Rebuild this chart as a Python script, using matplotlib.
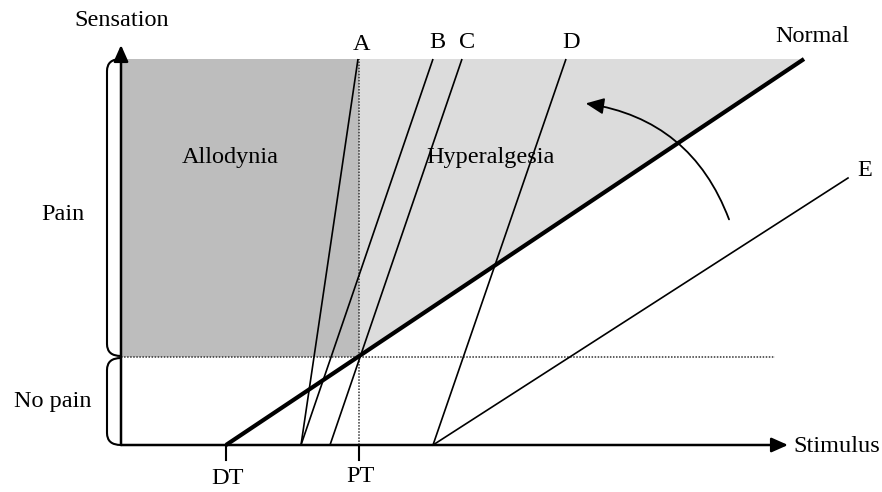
import matplotlib
matplotlib.use("Agg")
import matplotlib.pyplot as plt
from matplotlib.patches import FancyArrowPatch, PathPatch
from matplotlib.path import Path

plt.rcParams['font.family'] = ['Liberation Serif', 'DejaVu Serif']

# ---- data (stimulus units on x, sensation units on y) ----
DT = 105            # detection threshold
PT = 238            # pain threshold
pain_level = 88     # sensation level at pain threshold
top_level = 386     # top of drawing area
y_axis_top = 400
x_axis_end = 667
hline_end = 654

curve_names = ['A', 'B', 'C', 'D', 'Normal']
curve_start = [180, 180, 209, 312, 105]     # stimulus where sensation starts
curve_top = [237, 312, 341, 445, 683]       # stimulus where curve reaches top
curve_lw = [1.2, 1.2, 1.2, 1.2, 3.0]

E_start = 312
E_end = (727, 267)

label_color_dark = '#bdbdbd'
label_color_light = '#dcdcdc'

fig = plt.figure(figsize=(8.82, 4.92), dpi=100)
ax = fig.add_axes([0, 0, 1, 1])
ax.set_xlim(-121, 761)
ax.set_ylim(-47, 445)
ax.axis('off')

# shaded regions
ax.fill([0, PT, PT, 0], [pain_level, pain_level, top_level, top_level],
        color=label_color_dark, lw=0, zorder=0)
ax.fill([PT, PT, curve_top[-1]], [pain_level, top_level, top_level],
        color=label_color_light, lw=0, zorder=0)

# dotted guide lines
ax.plot([0, hline_end], [pain_level, pain_level], ls=(0, (1, 1)), lw=1.1, color='#333333', zorder=1)
ax.plot([PT, PT], [0, top_level], ls=(0, (1, 1)), lw=1.1, color='#333333', zorder=1)

# curves
for name, s, t, lw in zip(curve_names, curve_start, curve_top, curve_lw):
    ax.plot([s, t], [0, top_level], color='black', lw=lw, solid_capstyle='butt', zorder=3)
ax.plot([E_start, E_end[0]], [0, E_end[1]], color='black', lw=1.2, zorder=3)

# axes arrows
ax.annotate('', xy=(0, y_axis_top), xytext=(0, 0),
            arrowprops=dict(arrowstyle='-|>,head_length=0.9,head_width=0.4',
                            lw=1.8, color='black', shrinkA=0, shrinkB=0, mutation_scale=11))
ax.annotate('', xy=(x_axis_end, 0), xytext=(0, 0),
            arrowprops=dict(arrowstyle='-|>,head_length=0.9,head_width=0.4',
                            lw=1.8, color='black', shrinkA=0, shrinkB=0, mutation_scale=11))

# ticks at DT and PT
for xv in [DT, PT]:
    ax.plot([xv, xv], [0, -15], color='black', lw=1.5)

# braces
def bracket(y0, y1, depth=14, r=12):
    verts = [(0, y1), (-depth, y1), (-depth, y1 - r), (-depth, y0 + r), (-depth, y0), (0, y0)]
    codes = [Path.MOVETO, Path.CURVE3, Path.CURVE3, Path.LINETO, Path.CURVE3, Path.CURVE3]
    return PathPatch(Path(verts, codes), fill=False, lw=1.5, color='black')

ax.add_patch(bracket(pain_level + 1, top_level))
ax.add_patch(bracket(0, pain_level - 1))

# curved arrow
arr = FancyArrowPatch((609, 223), (462, 342), connectionstyle='arc3,rad=0.3',
                      arrowstyle='-|>,head_length=1.0,head_width=0.45',
                      mutation_scale=11, lw=1.3, color='black', zorder=4)
ax.add_patch(arr)

fs = 17.5
txt = dict(fontsize=fs, color='black', ha='center', va='center')
ax.text(1, 425, 'Sensation', **txt)
ax.text(241, 401, 'A', **txt)
ax.text(316, 402, 'B', **txt)
ax.text(346, 402, 'C', **txt)
ax.text(450, 402, 'D', **txt)
ax.text(691, 408, 'Normal', **txt)
ax.text(744, 275, 'E', **txt)
ax.text(109, 288, 'Allodynia', **txt)
ax.text(369, 288, 'Hyperalgesia', **txt)
ax.text(-58, 230, 'Pain', **txt)
ax.text(-68, 44, 'No pain', **txt)
ax.text(DT + 2, -33, 'DT', **txt)
ax.text(PT + 1, -32, 'PT', **txt)
ax.text(672, -1, 'Stimulus', fontsize=fs, ha='left', va='center')

fig.savefig('out.png', dpi=100)
